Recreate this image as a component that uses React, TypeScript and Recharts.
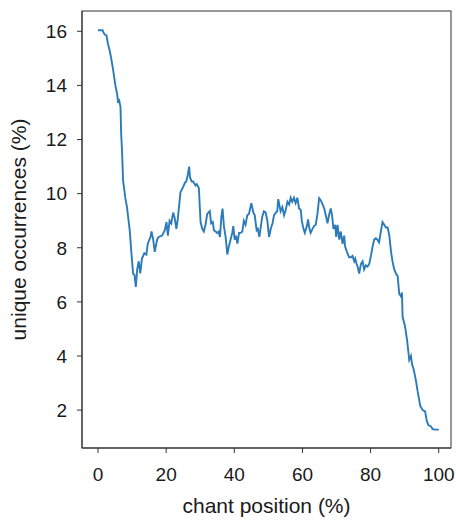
import React from 'react';
import * as R from 'recharts';
import { LineChart, Line, XAxis, YAxis, Label } from 'recharts';

// chant position (%)
const POSITION = [
  0, 1.0, 1.35, 1.6, 2.0, 2.5, 2.9, 3.4, 3.8, 4.4, 5.1, 5.6, 5.9, 6.1, 6.3, 6.6, 6.8, 7.05, 7.35, 8.0,
  8.5, 9.3, 9.8, 10.3, 10.7, 11.1, 11.5, 11.95, 12.4, 12.9, 13.6, 14.2, 14.6, 15.4, 15.7, 16.2, 16.65, 17.35, 17.8, 18.8,
  19.6, 20.1, 20.5, 21.0, 21.5, 22.05, 22.5, 23.0, 23.4, 24.2, 25.0, 25.5, 25.9, 26.35, 26.75, 27.0, 27.5, 27.9, 28.6, 29.0,
  29.6, 30.1, 30.6, 31.05, 31.55, 32.05, 32.8, 33.2, 33.7, 34.0, 34.5, 35.0, 35.4, 35.8, 36.2, 36.55, 36.95, 37.45, 37.95, 38.4,
  38.9, 39.4, 39.7, 40.1, 40.5, 40.9, 41.4, 41.9, 42.35, 42.8, 43.3, 43.8, 44.3, 45.0, 45.6, 46.0, 46.55, 46.9, 47.35, 47.8,
  48.2, 48.7, 49.2, 49.7, 50.2, 50.7, 51.2, 51.65, 52.2, 52.6, 52.9, 53.2, 53.6, 54.1, 54.6, 55.1, 55.6, 56.1, 56.55, 57.0,
  57.5, 58.0, 58.5, 59.0, 59.5, 59.8, 60.3, 60.7, 61.3, 61.65, 62.05, 62.4, 62.95, 63.4, 63.9, 64.4, 64.9, 65.4, 65.9, 66.4,
  66.85, 67.35, 67.8, 68.3, 68.7, 69.1, 69.6, 69.9, 70.3, 70.8, 71.25, 71.75, 72.25, 72.5, 73.05, 73.7, 74.2, 74.7, 75.2, 75.5,
  75.9, 76.2, 76.65, 77.15, 77.65, 78.1, 78.6, 79.1, 79.6, 80.1, 80.6, 81.05, 81.55, 82.0, 82.5, 83.0, 83.5, 84.0, 84.5, 85.0,
  85.5, 86.0, 86.5, 86.95, 87.45, 87.95, 88.4, 88.9, 89.2, 89.4, 90.1, 90.7, 91.35, 91.85, 92.15, 92.65, 93.3, 93.8, 94.6, 95.3,
  96.0, 96.5, 96.95, 97.7, 98.2, 99.0, 100.0,
];

// unique occurrences (%)
const UNIQUE = [
  16.04, 16.04, 16.04, 15.95, 15.88, 15.85, 15.55, 15.3, 15.05, 14.6, 14.0, 13.7, 13.35, 13.5, 13.4, 13.2, 12.2, 11.6, 10.5, 9.85,
  9.5, 8.65, 7.8, 7.05, 7.0, 6.55, 7.2, 7.5, 7.05, 7.6, 7.8, 7.75, 8.15, 8.4, 8.6, 8.3, 7.85, 8.3, 8.4, 8.45,
  8.65, 8.95, 8.45, 9.0, 8.9, 9.3, 9.1, 8.7, 9.05, 10.05, 10.25, 10.4, 10.45, 10.7, 11.0, 10.6, 10.45, 10.45, 10.3, 10.35,
  10.2, 8.95, 8.7, 8.6, 8.85, 9.25, 9.35, 8.9, 8.95, 8.65, 8.6, 8.55, 8.6, 8.4, 9.15, 9.45, 8.8, 8.4, 7.75, 8.05,
  8.3, 8.55, 8.8, 8.3, 8.45, 8.15, 8.55, 8.55, 8.6, 9.0, 8.85, 9.2, 9.25, 9.65, 9.3, 9.2, 8.65, 8.7, 8.4, 8.8,
  9.15, 9.35, 9.3, 9.0, 8.4, 8.7, 8.9, 9.2, 9.3, 9.35, 9.8, 9.6, 9.35, 9.5, 9.2, 9.4, 9.7, 9.6, 9.85, 9.7,
  9.85, 9.65, 9.85, 9.45, 9.4, 9.0, 8.7, 8.55, 8.8, 9.05, 8.7, 8.55, 8.7, 8.8, 8.85, 9.25, 9.83, 9.75, 9.6, 9.45,
  9.2, 8.9, 9.2, 9.45, 9.2, 8.7, 8.85, 8.4, 8.85, 8.3, 8.6, 8.15, 8.45, 8.05, 7.85, 7.65, 7.65, 7.7, 7.5, 7.6,
  7.4, 7.3, 7.05, 7.4, 7.5, 7.2, 7.35, 7.3, 7.4, 7.7, 8.05, 8.3, 8.35, 8.3, 8.2, 8.6, 8.95, 8.85, 8.75, 8.75,
  8.45, 7.85, 7.45, 7.2, 7.05, 6.95, 6.3, 6.2, 6.35, 5.45, 5.1, 4.6, 3.85, 4.0, 3.7, 3.5, 3.1, 2.7, 2.15, 2.0,
  1.95, 1.6, 1.45, 1.4, 1.3, 1.28, 1.28,
];

const X_TICKS = [0, 20, 40, 60, 80, 100];
const Y_TICKS = [2, 4, 6, 8, 10, 12, 14, 16];
const X_DOMAIN = [-4.7, 103.6];
const Y_DOMAIN = [0.6, 16.75];

const data = POSITION.map((x, i) => ({ x, y: UNIQUE[i] }));

const W = 456;
const H = 520;
const M = { top: 11, right: 5, bottom: 0, left: 0 };
const Y_AXIS_W = 82;
const X_AXIS_H = 72;

const FONT = 'Liberation Sans, Arial, sans-serif';
const tickStyle = { fill: '#1a1a1a', fontSize: 19, fontFamily: FONT };
const labelStyle = { fontSize: 21, fontFamily: FONT, fill: '#1a1a1a', textAnchor: 'middle' as const };
const frame = '#333';

// fall back to the known layout if the hook is not exported
const usePlot: () => any = (R as any).usePlotArea || (() => null);

// box around the plot area, drawn inside the chart's svg
function PlotFrame() {
  const area = usePlot();
  const x = area ? area.x : M.left + Y_AXIS_W;
  const y = area ? area.y : M.top;
  const w = area ? area.width : W - M.left - M.right - Y_AXIS_W;
  const h = area ? area.height : H - M.top - M.bottom - X_AXIS_H;
  return <rect x={x} y={y} width={w} height={h} fill="none" stroke={frame} strokeWidth={1} />;
}

export default function App() {
  return (
    <div style={{ position: 'absolute', left: 0, top: 0, background: '#fff' }}>
      <LineChart width={W} height={H} data={data} margin={M}>
        <XAxis
          dataKey="x"
          type="number"
          domain={X_DOMAIN}
          ticks={X_TICKS}
          allowDataOverflow
          height={X_AXIS_H}
          stroke={frame}
          tick={tickStyle}
          tickSize={5}
          tickMargin={15}
        >
          <Label value="chant position (%)" position="insideBottom" offset={7} style={labelStyle} />
        </XAxis>
        <YAxis
          type="number"
          domain={Y_DOMAIN}
          ticks={Y_TICKS}
          allowDataOverflow
          width={Y_AXIS_W}
          stroke={frame}
          tick={tickStyle}
          tickSize={5}
          tickMargin={10}
        >
          <Label value="unique occurrences (%)" angle={-90} position="insideLeft" offset={19} style={labelStyle} />
        </YAxis>
        <PlotFrame />
        <Line
          dataKey="y"
          type="linear"
          stroke="#2b7bba"
          strokeWidth={1.9}
          dot={false}
          isAnimationActive={false}
        />
      </LineChart>
    </div>
  );
}
